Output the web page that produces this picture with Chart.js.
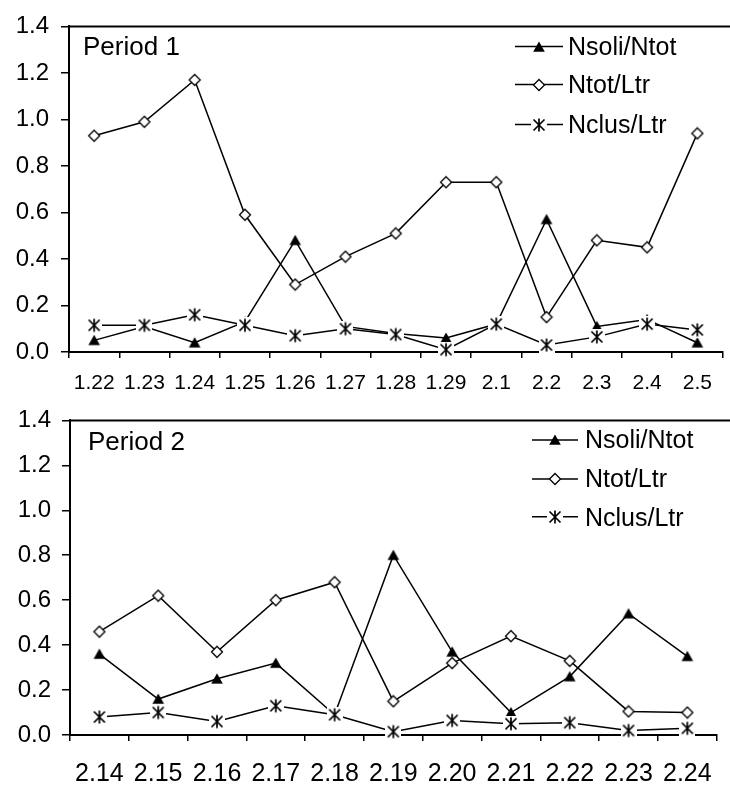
<!DOCTYPE html>
<html><head><meta charset="utf-8">
<script src="https://cdn.jsdelivr.net/npm/chart.js@4.4.1/dist/chart.umd.min.js"></script>
<style>
html,body{margin:0;padding:0;background:#fff;}
#wrap{position:relative;width:730px;height:789px;overflow:hidden;}
canvas{position:absolute;left:0;}
</style></head><body>
<div id="wrap">
<canvas id="c1" width="730" height="395" style="top:0px"></canvas>
<canvas id="c2" width="730" height="394" style="top:395px"></canvas>
</div>
<script>
// ---- data ----
const seriesNames = ['Nsoli/Ntot', 'Ntot/Ltr', 'Nclus/Ltr'];
const yTicks = [0, 0.2, 0.4, 0.6, 0.8, 1.0, 1.2, 1.4];

const labels1 = ['1.22','1.23','1.24','1.25','1.26','1.27','1.28','1.29','2.1','2.2','2.3','2.4','2.5'];
const nsoli1  = [0.05, 0.11, 0.04, 0.13, 0.48, 0.11, 0.08, 0.06, 0.12, 0.57, 0.11, 0.14, 0.04];
const ntot1   = [0.93, 0.99, 1.17, 0.59, 0.29, 0.41, 0.51, 0.73, 0.73, 0.15, 0.48, 0.45, 0.94];
const nclus1  = [0.115, 0.115, 0.16, 0.115, 0.07, 0.10, 0.075, 0.01, 0.12, 0.03, 0.065, 0.12, 0.095];

const labels2 = ['2.14','2.15','2.16','2.17','2.18','2.19','2.20','2.21','2.22','2.23','2.24'];
const nsoli2  = [0.36, 0.16, 0.25, 0.32, 0.09, 0.80, 0.37, 0.10, 0.26, 0.54, 0.35];
const ntot2   = [0.46, 0.62, 0.37, 0.60, 0.68, 0.15, 0.32, 0.44, 0.33, 0.105, 0.10];
const nclus2  = [0.08, 0.10, 0.06, 0.13, 0.09, 0.015, 0.065, 0.05, 0.055, 0.02, 0.03];

// ---- marker images ----
function makeTriangle(){
  const c=document.createElement('canvas'); c.width=14; c.height=14;
  const g=c.getContext('2d'); g.fillStyle='#000';
  g.beginPath(); g.moveTo(7,1.5); g.lineTo(12.8,11.8); g.lineTo(1.2,11.8); g.closePath(); g.fill();
  return c;
}
function makeDiamond(){
  const c=document.createElement('canvas'); c.width=14; c.height=14;
  const g=c.getContext('2d');
  g.beginPath(); g.moveTo(7,1.5); g.lineTo(12.5,7); g.lineTo(7,12.5); g.lineTo(1.5,7); g.closePath();
  g.fillStyle='#fff'; g.fill(); g.strokeStyle='#000'; g.lineWidth=1.3; g.stroke();
  return c;
}
function makeStar(){
  const c=document.createElement('canvas'); c.width=16; c.height=16;
  const g=c.getContext('2d');
  g.fillStyle='#fff'; g.fillRect(0,0,16,16);
  g.strokeStyle='#000'; g.lineWidth=1.7;
  g.beginPath();
  g.moveTo(8,1.5); g.lineTo(8,14.5);
  g.moveTo(2.5,2.5); g.lineTo(13.5,13.5);
  g.moveTo(13.5,2.5); g.lineTo(2.5,13.5);
  g.stroke();
  return c;
}
const triImg = makeTriangle(), diaImg = makeDiamond(), starImg = makeStar();

const FONT = "'Liberation Sans', Arial, sans-serif";

const decor = {
  id: 'decor',
  beforeDatasetsDraw(chart){
    const {ctx, chartArea:a} = chart;
    ctx.save();
    ctx.strokeStyle='#000'; ctx.lineWidth=2;
    ctx.beginPath(); ctx.moveTo(a.left-1, a.top); ctx.lineTo(chart.width, a.top); ctx.stroke();
    ctx.restore();
  },
  afterDraw(chart, args, o){
    const ctx = chart.ctx;
    ctx.save();
    ctx.fillStyle='#000';
    ctx.textBaseline='alphabetic';
    ctx.font = o.titleSize + 'px ' + FONT;
    ctx.fillText(o.title, o.titleX, o.titleBase);
    ctx.font = o.legendSize + 'px ' + FONT;
    chart.data.datasets.forEach((ds,i)=>{
      const r = o.rows[i];
      ctx.strokeStyle='#000'; ctx.lineWidth=1.5;
      ctx.beginPath(); ctx.moveTo(o.lineX0, r.line); ctx.lineTo(o.lineX1, r.line); ctx.stroke();
      const img = ds.pointStyle;
      const cx = (o.lineX0+o.lineX1)/2;
      ctx.drawImage(img, Math.round(cx-img.width/2), Math.round(r.line-img.height/2));
      ctx.fillText(ds.label, o.textX, r.base);
    });
    ctx.restore();
  }
};

function makeDatasets(a,b,c){
  const common = {borderColor:'#000', borderWidth:1.5, tension:0, clip:false, pointRadius:6, fill:false};
  return [
    Object.assign({label:seriesNames[0], data:a, pointStyle:triImg, order:2}, common),
    Object.assign({label:seriesNames[1], data:b, pointStyle:diaImg, order:1}, common),
    Object.assign({label:seriesNames[2], data:c, pointStyle:starImg, order:0}, common)
  ];
}

function makeChart(id, labels, ds, cfg){
  return new Chart(document.getElementById(id), {
    type:'line',
    data:{labels, datasets:ds},
    plugins:[decor],
    options:{
      responsive:false, animation:false, devicePixelRatio:1, events:[],
      layout:{padding:{top:cfg.padTop, right:0, left:0, bottom:0}},
      plugins:{legend:{display:false}, tooltip:{enabled:false}, decor:cfg.decor},
      scales:{
        x:{
          type:'category', offset:true,
          grid:{offset:true, drawOnChartArea:false, drawTicks:true, tickLength:6, color:'#000', lineWidth:1.5},
          border:{display:true, color:'#000', width:2},
          ticks:{color:'#000', font:{family:FONT, size:cfg.xSize}, padding:cfg.xPad, maxRotation:0, autoSkip:false},
          afterFit(s){ s.height = cfg.xHeight; }
        },
        y:{
          min:0, max:1.4,
          afterBuildTicks(s){ s.ticks = yTicks.map(v=>({value:v})); },
          ticks:{color:'#000', font:{family:FONT, size:cfg.ySize}, padding:cfg.yPad, callback:v=>Number(v).toFixed(1)},
          grid:{drawOnChartArea:false, drawTicks:true, tickLength:8, color:'#000', lineWidth:1.5},
          border:{display:true, color:'#000', width:2},
          afterFit(s){ s.width = cfg.yWidth; }
        }
      }
    }
  });
}

makeChart('c1', labels1, makeDatasets(nsoli1, ntot1, nclus1), {
  padTop:17, xHeight:43, yWidth:69, xSize:21, ySize:24, xPad:13, yPad:12,
  decor:{title:'Period 1', titleSize:26, titleX:83, titleBase:55, legendSize:25,
    lineX0:515, lineX1:563, textX:568,
    rows:[{line:46.5, base:54.5},{line:84.5, base:93.3},{line:124.5, base:133.3}]}
});
makeChart('c2', labels2, makeDatasets(nsoli2, ntot2, nclus2), {
  padTop:18, xHeight:54, yWidth:70, xSize:25, ySize:24, xPad:18, yPad:11,
  decor:{title:'Period 2', titleSize:26, titleX:88, titleBase:55, legendSize:25,
    lineX0:532, lineX1:578, textX:585,
    rows:[{line:45, base:53.3},{line:84, base:91.7},{line:121.7, base:130.7}]}
});
</script>
</body></html>
